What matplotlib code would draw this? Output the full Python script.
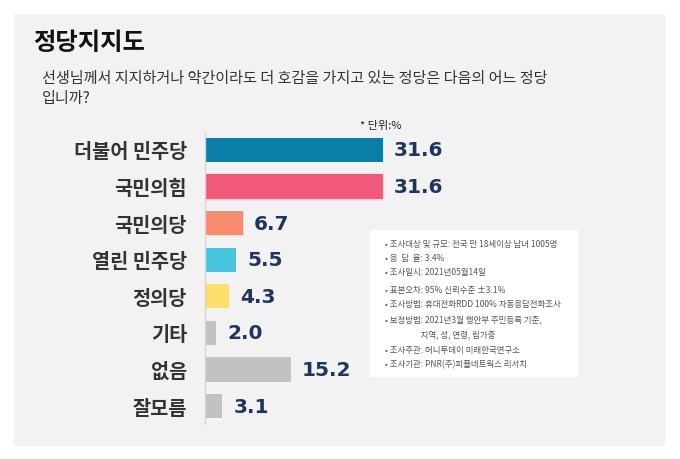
import matplotlib
matplotlib.use('Agg')
import matplotlib.pyplot as plt
from matplotlib.patches import Rectangle

plt.rcParams['font.family'] = ['Noto Sans CJK KR', 'DejaVu Sans']

# ---------------- data ----------------
parties = ['더불어 민주당', '국민의힘', '국민의당', '열린 민주당', '정의당', '기타', '없음', '잘모름']
support = [31.6, 31.6, 6.7, 5.5, 4.3, 2.0, 15.2, 3.1]
bar_colors = ['#0b7ea8', '#f25a7b', '#f98b6f', '#46c4de', '#fddd6b', '#c2c2c2', '#c2c2c2', '#c2c2c2']
info_lines = [
    '• 조사대상 및 규모: 전국 만 18세이상 남녀 1005명',
    '• 응  답  율: 3.4%',
    '• 조사일시: 2021년05월14일',
    '• 표본오차: 95% 신뢰수준 ±3.1%',
    '• 조사방법: 휴대전화RDD 100% 자동응답전화조사',
    '• 보정방법: 2021년3월 행안부 주민등록 기준,',
    '                   지역, 성, 연령, 림가중',
    '• 조사주관: 머니투데이 미래한국연구소',
    '• 조사기관: PNR(주)피플네트웍스 리서치',
]

W, H = 680, 460
fig = plt.figure(figsize=(6.8, 4.6), dpi=100, facecolor='white')

def fx(px):
    return px / W

def fy(py):
    return 1 - py / H

# grey panel
fig.patches.append(Rectangle((fx(14), fy(447)), fx(665) - fx(14), fy(15) - fy(447),
                             transform=fig.transFigure, facecolor='#f2f2f2', edgecolor='none', zorder=-2))

fig.text(fx(33), fy(43), '정당지지도', fontsize=17.5, fontweight='bold', color='#111111', va='center')
fig.text(fx(42), fy(78), '선생님께서 지지하거나 약간이라도 더 호감을 가지고 있는 정당은 다음의 어느 정당',
         fontsize=10.9, color='#333333', va='center')
fig.text(fx(42), fy(99), '입니까?', fontsize=10.9, color='#333333', va='center')
fig.text(fx(402), fy(126), '* 단위:%', fontsize=8, color='#222222', va='center', ha='right')

# bars
ax = fig.add_axes([fx(205), fy(425), fx(660) - fx(205), fy(133) - fy(425)])
ax.set_facecolor('none')
y = list(range(len(parties)))
ax.barh(y, support, height=0.66, color=bar_colors)
ax.set_xlim(0, (660 - 205) / 5.63)
ax.set_ylim(7.49, -0.49)
ax.set_yticks(y)
ax.set_yticklabels(parties, fontsize=14.2, fontweight='bold', color='#333333')
ax.tick_params(axis='y', length=0, pad=13)
ax.set_xticks([])
for s in ['top', 'right', 'bottom']:
    ax.spines[s].set_visible(False)
ax.spines['left'].set_color('#d4d4d4')
ax.spines['left'].set_linewidth(1.0)

for i, v in enumerate(support):
    ax.text(v + 2.0, i, '%.1f' % v, fontsize=14.5, fontweight='bold', color='#1f355f',
            va='center', ha='left', family='DejaVu Sans')

# info box
fig.patches.append(Rectangle((fx(370), fy(378)), fx(578) - fx(370), fy(231) - fy(378),
                             transform=fig.transFigure, facecolor='white', edgecolor='none', zorder=-1))
line_y = [245, 259, 273, 290, 305, 320, 335, 350, 365]
for t, ly in zip(info_lines, line_y):
    fig.text(fx(385), fy(ly), t, fontsize=6.1, color='#555555', va='center')

fig.savefig('out.png', dpi=100, facecolor='white')
